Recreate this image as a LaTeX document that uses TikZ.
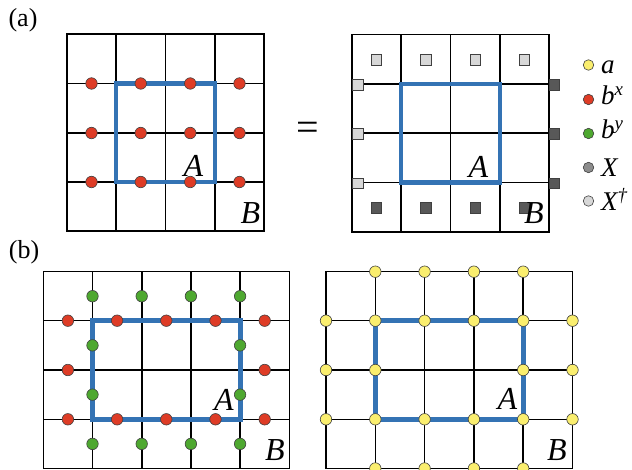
\documentclass[tikz,border=0pt]{standalone}
\usepackage{fontspec}
\setmainfont{Liberation Serif}
\definecolor{regblue}{RGB}{52,115,180}
\definecolor{redc}{RGB}{222,60,38}
\definecolor{greenc}{RGB}{78,168,48}
\definecolor{yellowc}{RGB}{250,238,110}
\definecolor{lightgr}{RGB}{215,215,215}
\definecolor{midgr}{RGB}{140,140,140}
\definecolor{darkgr}{RGB}{88,88,88}
\begin{document}
\begin{tikzpicture}[x=1pt,y=-1pt,
 gridline/.style={line width=1.6pt, line cap=rect},
 region/.style={line width=4.8pt, draw=regblue},
 dot/.style={circle, draw=black!75, line width=0.6pt, inner sep=0pt, minimum size=11.5pt},
 bxdot/.style={dot, fill=redc},
 bydot/.style={dot, fill=greenc},
 adot/.style={dot, fill=yellowc},
 sq/.style={rectangle, draw=black!75, line width=0.6pt, inner sep=0pt, minimum size=10.5pt},
 sqlight/.style={sq, fill=lightgr},
 sqdark/.style={sq, fill=darkgr},
 lbl/.style={font=\fontsize{32}{34}\selectfont\itshape, inner sep=0pt},
 panel/.style={font=\fontsize{26}{28}\selectfont, inner sep=0pt},
 legtext/.style={font=\fontsize{27}{29}\selectfont\itshape, anchor=base west, inner sep=0pt},
 legdot/.style={dot, minimum size=10.5pt}
]
\useasboundingbox (0,0) rectangle (632,470);

% ---------- panel (a), left ----------
\node[panel] (la) at (23,20) {(a)};
\foreach \x in {67,116,165.5,215,264} \draw[gridline] (\x,34) -- (\x,231);
\foreach \y in {34,83.5,133,182,231} \draw[gridline] (67,\y) -- (264,\y);
\draw[region] (116,83.5) rectangle (215,182);
\foreach \x [count=\i] in {91.5,140.75,190.25,239.5}
  \foreach \y [count=\j] in {83.5,133,182}
    \node[bxdot] (aL-\i-\j) at (\x,\y) {};
\node[lbl] (aLA) at (193.5,165.5) {A};
\node[lbl] (aLB) at (250.5,213.5) {B};

\node[font=\fontsize{40}{42}\selectfont, inner sep=0pt] (eq) at (307.5,131) {=};

% ---------- panel (a), right ----------
\foreach \x in {352,401,450.5,500,549} \draw[gridline] (\x,34.5) -- (\x,232);
\foreach \y in {34.5,84,133,182.5,232} \draw[gridline] (352,\y) -- (549,\y);
\draw[region] (401,84) rectangle (500,182.5);
\foreach \x [count=\i] in {376.5,425.75,475.25,524.5} {
  \node[sqlight] (aRt-\i) at (\x,60) {};
  \node[sqdark] (aRb-\i) at (\x,208) {};
}
\foreach \y [count=\j] in {85,134,183.5} {
  \node[sqlight] (aRl-\j) at (358,\y) {};
  \node[sqdark] (aRr-\j) at (554.5,\y) {};
}
\node[lbl] (aRA) at (478.5,167) {A};
\node[lbl] (aRB) at (534,213.5) {B};

% ---------- legend ----------
\node[legdot, fill=yellowc] (lg1) at (588.5,65) {};
\node[legdot, fill=redc] (lg2) at (588.5,99.5) {};
\node[legdot, fill=greenc] (lg3) at (588.5,133.5) {};
\node[legdot, fill=midgr] (lg4) at (588.5,167.5) {};
\node[legdot, fill=lightgr] (lg5) at (588.5,201) {};
\node[legtext] (lt1) at (601,73.5) {a};
\node[legtext] (lt2) at (601,104.5) {b\textsuperscript{x}};
\node[legtext] (lt3) at (601,139) {b\textsuperscript{y}};
\node[legtext] (lt4) at (601,177) {X};
\node[legtext] (lt5) at (601,211) {X\textsuperscript{†}};

% ---------- panel (b), left ----------
\node[panel] (lb) at (24,252) {(b)};
\foreach \x in {43.3,92.5,141.7,190.9,240.1,289.3} \draw[gridline] (\x,271.7) -- (\x,468.5);
\foreach \y in {271.7,320.7,370,419.3,468.5} \draw[gridline] (43.3,\y) -- (289.3,\y);
\draw[region] (92.5,320.7) rectangle (240.1,419.3);
\foreach \x [count=\i] in {67.9,117.1,166.3,215.5,264.7} {
  \node[bxdot] (bLrt-\i) at (\x,320.7) {};
  \node[bxdot] (bLrb-\i) at (\x,419.3) {};
}
\node[bxdot] (bLrm-1) at (67.9,370) {};
\node[bxdot] (bLrm-2) at (264.7,370) {};
\foreach \x [count=\i] in {92.5,141.7,190.9,240.1} {
  \node[bydot] (bLgt-\i) at (\x,296.2) {};
  \node[bydot] (bLgb-\i) at (\x,443.9) {};
}
\foreach \x [count=\i] in {92.5,240.1}
  \foreach \y [count=\j] in {345.35,394.65}
    \node[bydot] (bLgm-\i-\j) at (\x,\y) {};
\node[lbl] (bLA) at (224,399.5) {A};
\node[lbl] (bLB) at (275,450.5) {B};

% ---------- panel (b), right ----------
\foreach \x in {326,375.3,424.6,473.9,523.2,572.5} \draw[gridline] (\x,271.7) -- (\x,468.5);
\foreach \y in {271.7,320.7,370,419.3,468.5} \draw[gridline] (326,\y) -- (572.5,\y);
\draw[region] (375.3,320.7) rectangle (523.2,419.3);
\foreach \x [count=\i] in {375.3,424.6,473.9,523.2} {
  \node[adot] (bRt-\i) at (\x,271.7) {};
  \node[adot] (bRb-\i) at (\x,468.5) {};
}
\foreach \x [count=\i] in {326,375.3,424.6,473.9,523.2,572.5} {
  \node[adot] (bR1-\i) at (\x,320.7) {};
  \node[adot] (bR3-\i) at (\x,419.3) {};
}
\foreach \x [count=\i] in {326,375.3,523.2,572.5}
  \node[adot] (bR2-\i) at (\x,370) {};
\node[lbl] (bRA) at (507.5,398.5) {A};
\node[lbl] (bRB) at (557,450.5) {B};
\end{tikzpicture}
\end{document}
